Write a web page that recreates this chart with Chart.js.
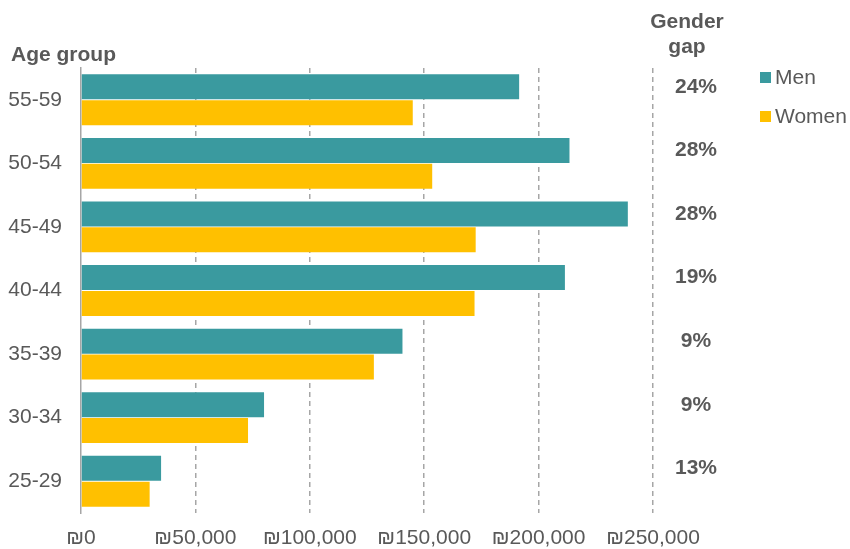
<!DOCTYPE html>
<html>
<head>
<meta charset="utf-8">
<script src="https://cdn.jsdelivr.net/npm/chart.js@4.4.1/dist/chart.umd.min.js"></script>
<style>
  html, body { margin: 0; padding: 0; background: #fff; }
  #wrap { width: 850px; height: 549px; }
</style>
</head>
<body>
<div id="wrap"><canvas id="grafico" width="850" height="549"></canvas></div>
<script>
const ageGroups = ['55-59', '50-54', '45-49', '40-44', '35-39', '30-34', '25-29']
const menValues = [191500, 213500, 239000, 211500, 140500, 80000, 35000]
const womenValues = [145000, 153500, 172500, 172000, 128000, 73000, 30000]
const genderGap = ['24%', '28%', '28%', '19%', '9%', '9%', '13%']
const xTicks = [0, 50000, 100000, 150000, 200000, 250000]

const fonte = "'Liberation Sans', Arial, sans-serif"
const cinza = '#595959'

// textos extras: titulo do eixo, coluna "Gender gap" e legenda
const extras = {
    id: 'extras',
    afterDraw(chart) {
        const ctx = chart.ctx
        ctx.save()
        ctx.fillStyle = cinza
        ctx.textBaseline = 'middle'

        ctx.font = 'bold 21px ' + fonte
        ctx.textAlign = 'left'
        ctx.fillText('Age group', 11, 55)

        ctx.textAlign = 'center'
        ctx.fillText('Gender', 687, 22)
        ctx.fillText('gap', 687, 47)

        const barrasMen = chart.getDatasetMeta(0).data
        for (let i = 0; i < genderGap.length; i++) {
            ctx.fillText(genderGap[i], 696, barrasMen[i].y)
        }

        // legenda
        ctx.font = '21px ' + fonte
        ctx.textAlign = 'left'
        chart.data.datasets.forEach((ds, i) => {
            const y = 78 + i * 39
            ctx.fillStyle = ds.backgroundColor
            ctx.fillRect(760, y - 6, 11, 11)
            ctx.fillStyle = cinza
            ctx.fillText(ds.label, 775, y)
        })
        ctx.restore()
    }
}

const ctx = document.getElementById('grafico').getContext('2d')
const chart = new Chart(ctx, {
    type: 'bar',
    data: {
        labels: ageGroups,
        datasets: [{
                label: 'Men',
                data: menValues,
                backgroundColor: '#3A9A9F',
                borderWidth: 0,
                barPercentage: 0.967,
                categoryPercentage: 0.813
            }, {
                label: 'Women',
                data: womenValues,
                backgroundColor: '#FFC000',
                borderWidth: 0,
                barPercentage: 0.967,
                categoryPercentage: 0.813
            }]
    },
    options: {
        indexAxis: 'y',
        responsive: false,
        animation: false,
        layout: {
            padding: { top: 68, right: 197, bottom: 0, left: 8 }
        },
        plugins: {
            legend: { display: false },
            tooltip: { enabled: false }
        },
        scales: {
            x: {
                min: 0,
                max: 250000,
                afterBuildTicks: (s) => { s.ticks = xTicks.map(v => ({ value: v })) },
                afterFit: (s) => { s.height = 36 },
                ticks: {
                    color: cinza,
                    font: { family: fonte, size: 21 },
                    padding: 13,
                    maxRotation: 0,
                    callback: (v) => '₪' + v.toLocaleString('en-US')
                },
                grid: {
                    color: (c) => c.index === 0 ? 'rgba(0,0,0,0)' : '#A6A6A6',
                    lineWidth: 1.5,
                    drawTicks: false
                },
                border: { display: false, dash: [5, 4] }
            },
            y: {
                afterFit: (s) => { s.width = 73 },
                ticks: {
                    color: cinza,
                    font: { family: fonte, size: 21 },
                    padding: 19
                },
                grid: { display: false, drawTicks: false },
                border: { display: true, color: '#A6A6A6', width: 1.5 }
            }
        }
    },
    plugins: [extras]
})
</script>
</body>
</html>
